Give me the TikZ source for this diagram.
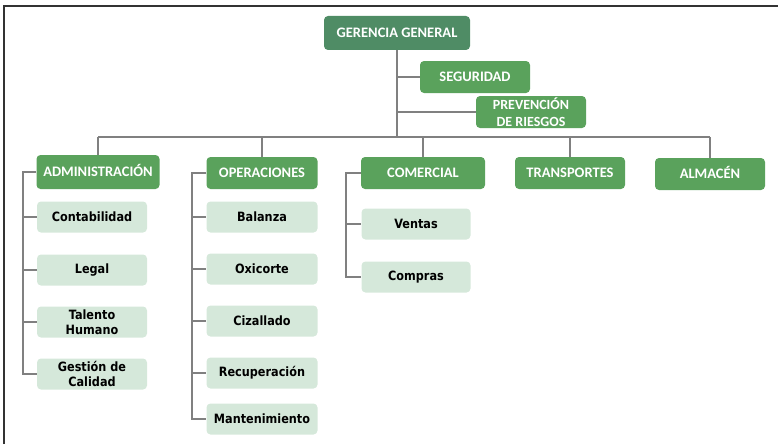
\documentclass[tikz,border=0pt]{standalone}
\usepackage{fontspec}
\setmainfont{Carlito}
\newfontfamily\childfont[FakeStretch=0.88]{DejaVu Sans}
\usepackage{tikz}
\usetikzlibrary{positioning}

\definecolor{gerencia}{RGB}{79,140,101}
\definecolor{area}{RGB}{90,162,92}
\definecolor{sub}{RGB}{213,232,218}
\definecolor{linea}{RGB}{128,128,128}
\definecolor{marco}{RGB}{51,51,51}

\begin{document}
\begin{tikzpicture}[x=1pt, y=-1pt,
		topbox/.style = {fill=gerencia, rounded corners=4pt, text=white, font=\bfseries\fontsize{14.5}{15}\selectfont, minimum width=146pt, minimum height=34pt, inner sep=0pt, text height=9.5pt, text depth=0pt},
		areabox/.style = {fill=area, rounded corners=4pt, text=white, font=\bfseries\fontsize{14.5}{15}\selectfont, minimum width=110pt, minimum height=32pt, inner sep=0pt, align=center, text height=9.5pt, text depth=0pt},
		subbox/.style = {fill=sub, rounded corners=4pt, text=black, font=\childfont\bfseries\fontsize{12.8}{14}\selectfont, minimum width=110pt, minimum height=31pt, inner sep=0pt, align=center},
		link/.style = {draw=linea, line width=1.3pt}]
		\useasboundingbox (0, 0) rectangle (778, 444);
		\draw [marco, line width=2.2pt] (4, 444) -- (4, 6) -- (778, 6);

		% gerencia y staff
		\node [topbox] (gg) at (397, 33) {GERENCIA GENERAL};
		\node [areabox] (seg) at (475, 77) {SEGURIDAD};
		\node [areabox, font=\bfseries\fontsize{14}{15}\selectfont, text height=, text depth=] (prev) at (531, 112) {PREVENCIÓN\\[1.5pt]DE RIESGOS};

		% areas
		\node [areabox, minimum width=123pt, minimum height=34pt] (adm) at (98, 172) {ADMINISTRACIÓN};
		\node [areabox, minimum width=111pt] (ope) at (262, 173) {OPERACIONES};
		\node [areabox, minimum width=124pt] (com) at (423, 173) {COMERCIAL};
		\node [areabox] (tra) at (570, 173) {TRANSPORTES};
		\node [areabox] (alm) at (710, 174) {ALMACÉN};

		% administracion
		\node [subbox] (cont) at (92, 217) {Contabilidad};
		\node [subbox] (legal) at (92, 270) {Legal};
		\node [subbox] (tal) at (92, 322) {Talento\\[1.5pt]Humano};
		\node [subbox] (gdc) at (92, 374) {Gestión de\\[1.5pt]Calidad};

		% operaciones
		\node [subbox, minimum width=111pt] (bal) at (262, 217) {Balanza};
		\node [subbox, minimum width=111pt] (oxi) at (262, 269) {Oxicorte};
		\node [subbox, minimum width=111pt] (ciz) at (262, 321) {Cizallado};
		\node [subbox, minimum width=111pt] (rec) at (262, 373) {Recuperación};
		\node [subbox, minimum width=111pt] (man) at (262, 419) {Mantenimiento};

		% comercial
		\node [subbox, minimum width=109pt] (ven) at (416, 224) {Ventas};
		\node [subbox, minimum width=109pt] (cmp) at (416, 277) {Compras};

		% lineas
		\coordinate (bus) at (397, 137);
		\coordinate (admbar) at (23, 172);
		\coordinate (opebar) at (192, 173);
		\coordinate (combar) at (346, 173);
		\draw [link] (gg.south) -- (bus);
		\draw [link] (gg.south |- seg.west) -- (seg.west);
		\draw [link] (gg.south |- prev.west) -- (prev.west);
		\draw [link] (adm.north |- bus) -- (alm.north |- bus);
		\foreach \n in {adm, ope, com, tra, alm}
			\draw [link] (\n.north |- bus) -- (\n.north);
		\draw [link] (adm.west) -- (admbar) |- (gdc.west);
		\foreach \n in {cont, legal, tal}
			\draw [link] (\n.west -| admbar) -- (\n.west);
		\draw [link] (ope.west) -- (opebar) |- (man.west);
		\foreach \n in {bal, oxi, ciz, rec}
			\draw [link] (\n.west -| opebar) -- (\n.west);
		\draw [link] (com.west) -- (combar) |- (cmp.west);
		\draw [link] (ven.west -| combar) -- (ven.west);
	\end{tikzpicture}
\end{document}
